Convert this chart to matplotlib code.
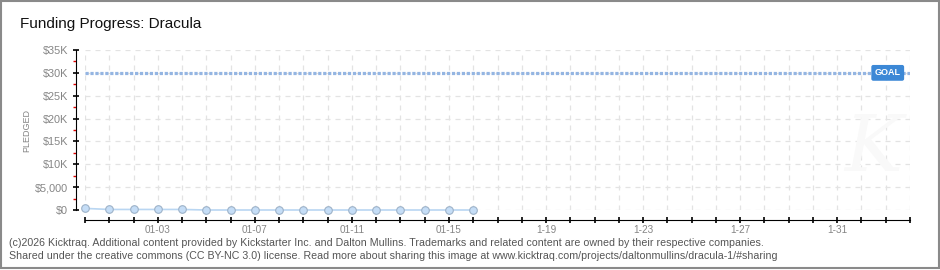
import matplotlib
matplotlib.use("Agg")
import matplotlib.pyplot as plt
import matplotlib.dates as mdates
from matplotlib.patches import Rectangle
from matplotlib.transforms import blended_transform_factory
import numpy as np
import pandas as pd

# data
pledge_dates = ["2025-12-31", "2026-01-01", "2026-01-02", "2026-01-03", "2026-01-04",
                "2026-01-05", "2026-01-06", "2026-01-07", "2026-01-08", "2026-01-09",
                "2026-01-10", "2026-01-11", "2026-01-12", "2026-01-13", "2026-01-14",
                "2026-01-15", "2026-01-16"]
pledged = [350, 120, 120, 120, 120, 0, 0, 0, 0, 0, 0, 0, 0, 0, 0, 0, 0]
goal = 30000
campaign_start = "2025-12-31"
campaign_end = "2026-02-03"
label_dates = ["2026-01-03", "2026-01-07", "2026-01-11", "2026-01-15",
               "2026-01-19", "2026-01-23", "2026-01-27", "2026-01-31"]
label_texts = ["01-03", "01-07", "01-11", "01-15", "1-19", "1-23", "1-27", "1-31"]
y_ticks = [0, 5000, 10000, 15000, 20000, 25000, 30000, 35000]
y_labels = ["$0", "$5,000", "$10K", "$15K", "$20K", "$25K", "$30K", "$35K"]

font = ["Liberation Sans", "DejaVu Sans"]
gray = "#858585"

W, H = 940, 270
fig = plt.figure(figsize=(W / 100, H / 100), dpi=100)
ax = fig.add_axes([85 / W, (H - 210) / H, 825 / W, 160 / H])

x = mdates.date2num(pd.to_datetime(pledge_dates))
x0 = mdates.date2num(pd.Timestamp(campaign_start))
x1 = mdates.date2num(pd.Timestamp(campaign_end))
day_ticks = np.arange(x0, x1 + 0.5, 1.0)

ax.set_xlim(x0, x1)
ax.set_ylim(0, 35000)

# dashed grid: every day vertically, every 5K horizontally
for d in day_ticks:
    ax.axvline(d, color="#e3e3e3", lw=0.9, ls=(0, (4, 4)), zorder=0)
for yv in y_ticks:
    ax.axhline(yv, color="#e3e3e3", lw=0.9, ls=(0, (4, 4)), zorder=0)

# faint watermark
ax.text(0.955, 0.38, "K", transform=ax.transAxes, fontsize=56, style="italic",
        color="#f9f9f9", ha="center", va="center", family="DejaVu Serif", zorder=0)

# goal line + tag
ax.axhline(goal, color="#94b5e2", lw=2.3, ls=(0, (1.0, 0.55)), zorder=2)
tr = blended_transform_factory(ax.transAxes, ax.transData)
ax.text(0.973, goal, "GOAL", transform=tr, ha="center", va="center",
        fontsize=6.5, color="white", family=font, fontweight="bold",
        bbox=dict(boxstyle="round,pad=0.3,rounding_size=0.15", fc="#3c88d6", ec="#3c88d6"),
        zorder=5)

# pledged series
ax.plot(x, pledged, color="#b9d6f2", lw=1.2, zorder=3, clip_on=False)
ax.scatter(x, pledged, s=30, facecolor="#c5ddf6", edgecolor="#9db2c8", lw=0.8,
           zorder=4, clip_on=False)

# axes styling
for side in ["top", "right"]:
    ax.spines[side].set_visible(False)
ax.spines["left"].set_position(("outward", 6.5))
ax.spines["bottom"].set_position(("outward", 7.2))
ax.spines["left"].set_bounds(0, 35000)

ax.set_xticks(day_ticks)
lbl_pos = mdates.date2num(pd.to_datetime(label_dates))
xt_labels = []
for d in day_ticks:
    match = [t for p, t in zip(lbl_pos, label_texts) if abs(p - d) < 0.01]
    xt_labels.append(match[0] if match else "")
ax.set_xticklabels(xt_labels)
ax.tick_params(axis="x", direction="inout", length=5, width=1.2, colors="black",
               labelcolor=gray, labelsize=7.2, pad=1)
for lab in ax.get_xticklabels():
    lab.set_family(font)

ax.set_yticks(y_ticks)
ax.set_yticklabels(y_labels)
ax.set_yticks(np.arange(2500, 35000, 5000), minor=True)
ax.tick_params(axis="y", which="major", direction="inout", length=5, width=1.2,
               colors="black", labelcolor=gray, labelsize=7.8, pad=3)
ax.tick_params(axis="y", which="minor", direction="out", length=2.5, width=1,
               colors="#e00000")
for lab in ax.get_yticklabels():
    lab.set_family(font)
ax.set_ylabel("PLEDGED", color=gray, fontsize=6.5, family=font, labelpad=3)

# title and footer
fig.text(20 / W, 1 - 24 / H, "Funding Progress: Dracula", fontsize=11,
         family=font, color="#111111", va="center")
fig.text(9 / W, 1 - 243 / H,
         "(c)2026 Kicktraq. Additional content provided by Kickstarter Inc. and Dalton Mullins. "
         "Trademarks and related content are owned by their respective companies.",
         fontsize=7.65, family=font, color="#555555", va="center")
fig.text(9 / W, 1 - 256 / H,
         "Shared under the creative commons (CC BY-NC 3.0) license. Read more about sharing "
         "this image at www.kicktraq.com/projects/daltonmullins/dracula-1/#sharing",
         fontsize=7.65, family=font, color="#555555", va="center")

# outer frame
fig.patches.append(Rectangle((0.5 / W, 1 - 268 / H), 938 / W, 267 / H,
                             transform=fig.transFigure, fill=False,
                             ec="#8a8a8a", lw=1.5))

fig.savefig("out.png", dpi=100)
